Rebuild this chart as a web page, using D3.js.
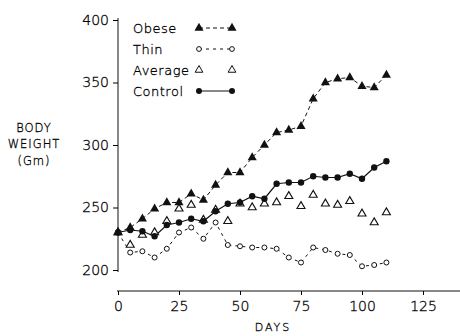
<!DOCTYPE html>
<html><head><meta charset="utf-8">
<script src="https://cdn.jsdelivr.net/npm/d3@7"></script>
<style>
body{margin:0;background:#fff;}
text{font-family:"DejaVu Sans",sans-serif;fill:#000;font-weight:200;stroke:#000;stroke-width:0.3px;}
</style></head>
<body><svg id="c" width="460" height="336"></svg>
<script>
const days = [0,5,10,15,20,25,30,35,40,45,50,55,60,65,70,75,80,85,90,95,100,105,110];
const obese   = [230,234,241,249,254,254,261,256,268,278,278,290,300,310,312,315,337,350,353,354,347,346,356];
const thin    = [230,214,215,210,217,230,234,225,238,220,219,218,218,217,210,206,218,216,213,212,203,204,206];
const average = [230,220,228,230,239,249,252,240,248,239,253,250,253,254,259,251,260,253,252,255,245,238,246];
const control = [230,232,231,227,236,238,241,239,247,253,254,259,257,269,270,270,275,274,274,277,273,282,287];
const xTicks = [0,25,50,75,100,125];
const yTicks = [200,250,300,350,400];
const legendLabels = ["Obese","Thin","Average","Control"];

const svg = d3.select("#c");
const x = d3.scaleLinear().domain([0,125]).range([118,423]);
const y = d3.scaleLinear().domain([200,400]).range([270,20]);

// y axis
const ya = svg.append("g").attr("transform","translate(118,0)")
  .call(d3.axisLeft(y).tickValues(yTicks).tickSize(5).tickPadding(4));
ya.select(".domain").attr("d","M0,18V272").attr("stroke","#111");
ya.selectAll("text").style("font-size","14px").style("font-family","DejaVu Sans").style("font-weight","200").attr("fill","#000");

// x axis
const xa = svg.append("g").attr("transform","translate(0,291)")
  .call(d3.axisBottom(x).tickValues(xTicks).tickSize(4).tickPadding(6));
xa.select(".domain").attr("d","M117,0H460").attr("stroke","#111");
xa.selectAll("text").style("font-size","14px").style("font-family","DejaVu Sans").style("font-weight","200").attr("fill","#000");

// axis titles
const yt = svg.append("text").attr("text-anchor","middle").style("font-size","11.5px").style("letter-spacing","1px");
[["BODY",132],["WEIGHT",148],["(Gm)",165]].forEach(([t,yy])=>{
  yt.append("tspan").attr("x",34).attr("y",yy).text(t);
});
svg.append("text").attr("x",273).attr("y",331).attr("text-anchor","middle")
  .style("font-size","11px").style("letter-spacing","2px").text("DAYS");

const line = d3.line().x((d,i)=>x(days[i])).y(d=>y(d));
const triUp = d3.symbol().type(d3.symbolTriangle);

// lines
svg.append("path").datum(obese).attr("d",line).attr("fill","none").attr("stroke","#111")
  .attr("stroke-width",1).attr("stroke-dasharray","4,3");
svg.append("path").datum(thin).attr("d",line).attr("fill","none").attr("stroke","#111")
  .attr("stroke-width",1).attr("stroke-dasharray","3,4");
svg.append("path").datum(control).attr("d",line).attr("fill","none").attr("stroke","#111")
  .attr("stroke-width",1.2);

// markers
svg.append("g").selectAll("path").data(average).join("path")
  .attr("transform",(d,i)=>`translate(${x(days[i])},${y(d)})`)
  .attr("d",triUp.size(28)()).attr("fill","#fff").attr("stroke","#111").attr("stroke-width",1.1);
svg.append("g").selectAll("circle").data(thin).join("circle")
  .attr("cx",(d,i)=>x(days[i])).attr("cy",d=>y(d)).attr("r",2.5)
  .attr("fill","#fff").attr("stroke","#111").attr("stroke-width",1);
svg.append("g").selectAll("path").data(obese).join("path")
  .attr("transform",(d,i)=>`translate(${x(days[i])},${y(d)})`)
  .attr("d",triUp.size(36)()).attr("fill","#111");
svg.append("g").selectAll("circle").data(control).join("circle")
  .attr("cx",(d,i)=>x(days[i])).attr("cy",d=>y(d)).attr("r",3.2).attr("fill","#111");

// legend
const lg = svg.append("g");
const lx1 = 199, lx2 = 232;
legendLabels.forEach((lab,i)=>{
  const cy = 28 + i*21;
  lg.append("text").attr("x",133).attr("y",cy+5).style("font-size","13px").style("letter-spacing","0.5px").text(lab);
  if (i===0){
    lg.append("line").attr("x1",lx1).attr("x2",lx2).attr("y1",cy).attr("y2",cy).attr("stroke","#111").attr("stroke-dasharray","4,3");
    [lx1,lx2].forEach(px=>lg.append("path").attr("transform",`translate(${px},${cy})`).attr("d",triUp.size(36)()).attr("fill","#111"));
  } else if (i===1){
    lg.append("line").attr("x1",lx1).attr("x2",lx2).attr("y1",cy).attr("y2",cy).attr("stroke","#111").attr("stroke-dasharray","3,4");
    [lx1,lx2].forEach(px=>lg.append("circle").attr("cx",px).attr("cy",cy).attr("r",2.4).attr("fill","#fff").attr("stroke","#111"));
  } else if (i===2){
    [lx1,lx2].forEach(px=>lg.append("path").attr("transform",`translate(${px},${cy})`).attr("d",triUp.size(26)()).attr("fill","#fff").attr("stroke","#111"));
  } else {
    lg.append("line").attr("x1",lx1).attr("x2",lx2).attr("y1",cy).attr("y2",cy).attr("stroke","#111").attr("stroke-width",1.2);
    [lx1,lx2].forEach(px=>lg.append("circle").attr("cx",px).attr("cy",cy).attr("r",3).attr("fill","#111"));
  }
});
</script></body></html>
